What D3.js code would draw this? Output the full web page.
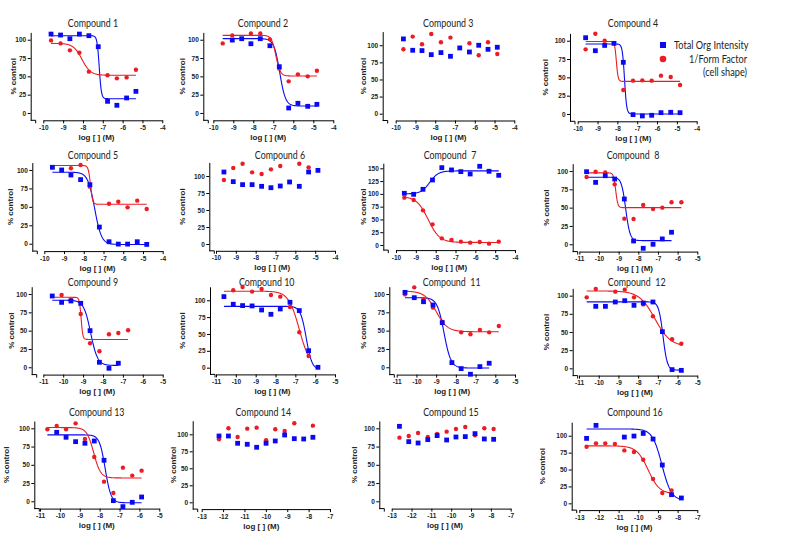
<!DOCTYPE html>
<html><head><meta charset="utf-8">
<script src="https://cdn.jsdelivr.net/npm/d3@7"></script>
<style>
body{margin:0;background:#fff}
svg{display:block}
.tick text{font-family:"Liberation Sans",Arial,sans-serif;font-weight:bold;font-size:6.5px;fill:#222}
.title{font-family:Lato,"Open Sans",sans-serif;font-size:10.8px;fill:#222;white-space:pre}
.axlab{font-family:"Liberation Sans",Arial,sans-serif;font-weight:bold;font-size:8px;fill:#222}
.leg{font-family:Lato,"Open Sans",sans-serif;font-size:10.8px;fill:#222}
</style>
</head><body>
<svg id="c" width="790" height="553"></svg>
<script>
// ---------- data ----------
const titles = ["Compound 1","Compound 2","Compound 3","Compound 4",
  "Compound 5","Compound 6","Compound  7","Compound  8",
  "Compound 9","Compound 10","Compound  11","Compound  12",
  "Compound 13","Compound 14","Compound 15","Compound 16"];
const seriesNames = ["Total Org Intensity","1/Form Factor","(cell shape)"];
const xDomains = [[-10,-4],[-10,-4],[-10,-4],[-10,-4],[-10,-4],[-10,-4],[-10,-4],[-11,-5],
  [-11,-5],[-11,-5],[-11,-5],[-11,-5],[-11,-5],[-13,-7],[-13,-7],[-13,-7]];
const yDomains = [[-10,110],[-10,110],[-10,120],[-10,110],[-10,110],[-10,120],[-10,160],[-10,110],
  [-10,110],[-10,120],[-10,110],[-10,110],[-10,110],[-10,120],[-10,110],[-10,120]];
const yTicks100 = [0,25,50,75,100];
const yTicks150 = [0,25,50,75,100,125,150];

// Total Org Intensity (blue squares): log[M] and % control
const orgX = [
 [-9.61,-9.13,-8.66,-8.18,-7.70,-7.23,-6.76,-6.29,-5.80,-5.33],
 [-9.05,-8.58,-8.12,-7.65,-7.17,-6.70,-6.23,-5.77,-5.28,-4.82],
 [-9.61,-9.14,-8.67,-8.20,-7.71,-7.23,-6.76,-6.27,-5.80,-5.33,-4.86],
 [-9.60,-9.11,-8.64,-8.17,-7.70,-7.21,-6.74,-6.27,-5.80,-5.31,-4.84],
 [-9.59,-9.12,-8.65,-8.16,-7.69,-7.21,-6.72,-6.25,-5.78,-5.29,-4.81],
 [-9.60,-9.13,-8.66,-8.18,-7.70,-7.23,-6.76,-6.29,-5.80,-5.33,-4.86],
 [-9.58,-9.11,-8.64,-8.16,-7.69,-7.20,-6.73,-6.26,-5.78,-5.31,-4.82],
 [-10.63,-10.17,-9.68,-9.20,-8.71,-8.24,-7.75,-7.25,-6.78,-6.31],
 [-10.55,-10.08,-9.61,-9.12,-8.65,-8.18,-7.70,-7.23],
 [-10.60,-10.13,-9.66,-9.18,-8.70,-8.23,-7.76,-7.27,-6.80,-6.33,-5.86],
 [-10.58,-10.11,-9.64,-9.16,-8.69,-8.20,-7.73,-7.26,-6.78,-6.31],
 [-10.15,-9.66,-9.16,-8.68,-8.21,-7.74,-7.25,-6.77,-6.28,-5.81],
 [-10.16,-9.69,-9.21,-8.74,-8.27,-7.78,-7.31,-6.83,-6.36,-5.89],
 [-12.19,-11.75,-11.32,-10.87,-10.43,-9.99,-9.56,-9.12,-8.67,-8.23,-7.80],
 [-12.61,-12.14,-11.67,-11.18,-10.71,-10.23,-9.76,-9.29,-8.80,-8.33,-7.86],
 [-12.63,-12.15,-10.71,-10.22,-9.75,-9.25,-8.78,-8.31,-7.81]];
const orgY = [
 [107.7,106.4,101.4,107.7,105.5,90.5,15.9,10.5,20.5,29.5],
 [99.5,101.4,94.5,101.4,91.8,63.2,6.8,13.2,9.1,11.8],
 [109.3,92.7,92.2,86.3,89.3,83.9,96.1,90.2,100,94.1,97.1],
 [104.1,86.4,93.6,96.4,70.5,-0.9,-2.7,-1.8,1.8,2.3,1.8],
 [103.6,100,93.2,86.9,80.1,22.6,2.7,-0.5,-0.5,2.7,-0.9],
 [105.9,91.7,87.3,87.3,84.8,82.8,85.3,91.2,84.8,105.9,108.3],
 [101.1,99.1,108.9,127.2,151.3,146.8,143.5,138.9,153.9,144.2,136.3],
 [99.1,84.5,93.6,89.1,61.8,4.5,-5.5,0,7.3,16.4],
 [97.3,88.6,90.5,87.3,50,6.8,-1.4,5.5],
 [105.4,94.1,92.1,91.6,85.6,79.2,87.1,97,84.7,25.2,0.5],
 [102.3,95,89.5,85,60.9,6.4,-1.8,-9.5,0.9,5.5],
 [85.3,85.3,91.3,93.1,86.7,89.9,91.3,50.5,-1.8,-2.8],
 [94.5,87.7,81.7,79.5,82.6,56.2,0.9,-7.3,-1.4,5.9],
 [97.5,97.5,86.8,85.3,80.9,86.8,90.2,99,93.6,93.1,95.6],
 [102.7,81.7,79.9,84.5,90,84,88.1,88.6,92.7,85.4,84.9],
 [96.1,115.3,98,99.5,103.4,95.1,56.7,12.8,7.9]];

// 1/Form Factor (red circles)
const ffX = [
 [-9.61,-9.13,-8.66,-8.18,-7.70,-6.76,-6.29,-5.80,-5.33],
 [-9.53,-9.05,-8.12,-7.65,-7.17,-6.70,-6.23,-5.77,-5.28,-4.82],
 [-9.61,-9.14,-8.67,-8.20,-7.71,-7.23,-6.27,-5.80,-5.33,-4.86],
 [-9.60,-9.11,-8.64,-7.70,-7.21,-6.74,-6.27,-5.80,-5.31,-4.84],
 [-8.65,-8.16,-7.69,-6.72,-6.25,-5.78,-5.29,-4.81],
 [-9.60,-9.13,-8.66,-8.18,-7.70,-7.23,-6.76,-5.80,-5.33],
 [-9.58,-9.11,-8.64,-8.16,-7.69,-7.20,-6.73,-6.26,-5.78,-5.31,-4.82],
 [-10.63,-10.17,-9.68,-9.20,-8.71,-8.24,-7.75,-7.25,-6.78,-6.31,-5.81],
 [-10.08,-9.61,-9.12,-8.65,-8.18,-7.70,-7.23,-6.74],
 [-10.13,-9.66,-9.18,-8.70,-8.23,-7.76,-7.27,-6.80,-6.33],
 [-10.58,-10.11,-9.64,-9.16,-8.69,-7.73,-7.26,-6.78,-6.31,-5.82],
 [-10.61,-10.15,-9.16,-8.68,-8.21,-7.74,-7.25,-6.28,-5.81],
 [-10.63,-10.16,-9.69,-9.21,-8.74,-8.27,-7.78,-7.31,-6.83,-6.36,-5.89],
 [-12.19,-11.75,-11.32,-10.87,-10.43,-9.99,-9.56,-9.12,-8.67,-7.80],
 [-12.61,-12.14,-11.67,-11.18,-10.71,-10.23,-9.76,-9.29,-8.80,-8.33,-7.86],
 [-12.63,-12.15,-11.68,-11.19,-10.71,-10.22,-9.75,-9.25,-8.78,-8.31]];
const ffY = [
 [99.1,95,85.5,82.3,56.4,51.4,47.3,48.6,59.1],
 [95,105.9,108.6,108.6,100.5,60.5,43.2,52.7,50,57.7],
 [94.1,112.7,101.5,116.6,104.4,111.2,102.9,85.4,104.4,87.3],
 [88.2,109.5,100,32.7,45.5,45.9,45.5,52.3,50.5,39.5],
 [102.3,106.8,77.4,54.3,57,49.3,58.4,47.1],
 [94.1,111.8,118.1,105.4,102.9,109.8,114.7,118.1,112.7],
 [92.6,88.1,67.8,40.4,13,9.8,6.5,4.6,5.9,2.6,6.5],
 [91.8,99.1,98.2,81.8,35,34.5,53.6,48.2,50,57.3,57.3],
 [98.6,92.7,72.7,32.7,21.8,45,46.8,50.5],
 [114.9,119.8,112.9,116.8,107.9,105.4,90.1,52.5,17.3],
 [99.5,109.1,93.2,81.4,62.3,47.7,45,50.9,47.7,56.4],
 [97.7,109.2,105.5,108.3,97.7,88,71.6,40,33.9],
 [98.6,103.2,98.6,106.8,85.4,60.7,26.9,11.4,46.1,35.2,42],
 [92.6,108.8,96.1,108.3,109.8,91.2,107.4,104.9,116.2,112.7],
 [87.2,89.5,93.6,88.1,92.2,95.4,99.1,101.8,90.4,100,99.1],
 [83.7,88.7,88.7,87.7,78.3,75.9,64.5,36,15.3,19.2]];

// fitted 4-parameter curves: [left plateau, right plateau, log IC50, slope] (null = no fit)
const orgFit = [[105.5,19.5,-7.18,8],[101.5,9.5,-6.68,3],null,[95.5,0,-7.64,8],
  [97,-1,-7.45,2.5],null,[100,145,-8.3,2],[91.5,5,-8.64,4],
  [91.5,2.5,-8.62,2.5],[91,-3,-6.45,3],[95,-1,-8.6,2.5],[91.5,-2.5,-6.74,4],
  [91,-2,-7.72,3],null,null,[110,4,-8.8,1.8]];
const ffFit = [[95,51.5,-8.05,2],[106,50.5,-6.87,4],null,[99,44.5,-8.05,10],
  [106,53.5,-7.66,8],null,[95,5,-8.38,1.5],[97.5,50,-9.15,8],
  [95.5,38,-9.1,10],[113.5,0,-6.8,1.6],[104,48.5,-9.0,1.5],[106.5,30,-7.15,1.1],
  [101,32,-8.3,2.5],null,null,[85,14,-9.5,1.5]];

// ---------- layout (pixels) ----------
const axX  = [30.7,203.3,382.7,570, 32.3,209.3,383.3,572.7, 31.7,210,389.3,572.7, 34.3,192.7,379.3,571.7];
const x0px = [43.3,213.3,395.7,577.7, 44.3,216,396,579.3, 43.3,216,396.7,579, 40,201.7,391.7,579.3];
const x1px = [162.3,333.3,514.3,696.7, 162.7,335,515,697.3, 162.7,335,515,697.3, 159.3,330,510.7,697.3];
const topPx = [32.4,32.4,31.6,33.4, 162.6,162.4,163.2,163.7, 286.7,286.8,286.7,288.4, 421,420.7,421,422.2];
const botPx = [120.3,120.3,120.5,121.3, 251.1,250.8,250.1,251.6, 374.6,374.4,374.6,375.6, 508.6,509.1,508.6,510.1];
const labOff = [18,21.7,20,25, 22.3,27.6,20.6,26.7, 21,28.3,26.6,26.7, 28.3,19.4,25.3,30];
const titleCx = [93,263,448.3,633, 93,280,450,633, 93,266.7,451.7,636.7, 96.7,263.3,451,635];
const titleCy = [23,23,23,23, 155,155,155,155, 282.3,282.3,282.3,282.3, 412.3,412.3,412.3,412.3];

const BLUE = "#0a0af2", RED = "#ec1c24";
const svg = d3.select("#c");

function fitFn(p){ return x => p[1] + (p[0]-p[1])/(1+Math.pow(10,(x-p[2])*p[3])); }
function squeeze(sel, k){ sel.each(function(){ const w=this.getComputedTextLength();
  d3.select(this).attr("textLength",(w*k).toFixed(1)).attr("lengthAdjust","spacingAndGlyphs"); }); }

for (let i=0;i<16;i++){
  const x = d3.scaleLinear().domain(xDomains[i]).range([x0px[i], x1px[i]]);
  const y = d3.scaleLinear().domain(yDomains[i]).range([botPx[i], topPx[i]]);
  const g = svg.append("g");

  // title
  g.append("text").attr("class","title").attr("x",titleCx[i]).attr("y",titleCy[i]+4)
    .attr("text-anchor","middle").attr("xml:space","preserve").text(titles[i]).call(squeeze,0.82);

  // y axis
  const yt = yDomains[i][1] > 150 ? yTicks150 : yTicks100;
  const ya = g.append("g").attr("transform",`translate(${axX[i]},0)`)
    .call(d3.axisLeft(y).tickValues(yt).tickSize(3).tickSizeOuter(0).tickPadding(1.5).tickFormat(d=>String(d)));
  // x axis
  const xt = d3.range(xDomains[i][0], xDomains[i][1]+0.5, 1);
  const xa = g.append("g").attr("transform",`translate(0,${botPx[i]})`)
    .call(d3.axisBottom(x).tickValues(xt).tickSize(3).tickSizeOuter(0).tickPadding(2).tickFormat(d=>String(d)));
  // short stub of the x axis at the origin corner
  g.append("line").attr("x1",axX[i]).attr("x2",axX[i]+5).attr("y1",botPx[i]).attr("y2",botPx[i]);
  g.append("line").attr("x1",axX[i]+5).attr("x2",axX[i]+5).attr("y1",botPx[i]).attr("y2",botPx[i]+3);
  g.selectAll("line").attr("stroke","#000");
  [ya,xa].forEach(a=>{a.select(".domain").attr("stroke","#000").attr("stroke-width",1);
    a.selectAll(".tick line").attr("stroke","#000"); a.attr("font-family",null).attr("font-size",null);});

  // axis labels
  g.append("text").attr("class","axlab").attr("text-anchor","middle")
    .attr("x",(axX[i]+x1px[i])/2).attr("y",botPx[i]+19.5).text("log [ ] (M)");
  const cy = (topPx[i]+botPx[i])/2;
  g.append("text").attr("class","axlab").attr("text-anchor","middle")
    .attr("transform",`translate(${axX[i]-labOff[i]+3},${cy}) rotate(-90)`).text("% control");

  // curves
  const allX = orgX[i].concat(ffX[i]);
  const xs0 = d3.min(allX);
  const line = d3.line().x(d=>x(d[0])).y(d=>y(d[1]));
  [[orgFit[i], orgX[i], BLUE],[ffFit[i], ffX[i], RED]].forEach(([p,xsS,col])=>{
    if(!p) return;
    const f = fitFn(p), xe = d3.max(xsS);
    const pts = d3.range(0,201).map(k=>{const xv = xs0+(xe-xs0)*k/200; return [xv,f(xv)];});
    g.append("path").attr("d",line(pts)).attr("fill","none").attr("stroke",col).attr("stroke-width",1.1);
  });

  // points
  g.selectAll("circle.ff").data(d3.zip(ffX[i],ffY[i])).join("circle").attr("class","ff")
    .attr("cx",d=>x(d[0])).attr("cy",d=>y(d[1])).attr("r",2.2).attr("fill",RED);
  g.selectAll("rect.org").data(d3.zip(orgX[i],orgY[i])).join("rect").attr("class","org")
    .attr("x",d=>x(d[0])-2.4).attr("y",d=>y(d[1])-2.4).attr("width",4.8).attr("height",4.8).attr("fill",BLUE);
}

// legend
const lg = svg.append("g");
lg.append("rect").attr("x",660).attr("y",42).attr("width",6).attr("height",6).attr("fill",BLUE);
lg.append("circle").attr("cx",663).attr("cy",59).attr("r",3.3).attr("fill",RED);
lg.append("text").attr("class","leg").attr("x",674).attr("y",48.8).text(seriesNames[0]).call(squeeze,0.85);
lg.append("text").attr("class","leg").attr("x",747).attr("y",62.5).attr("text-anchor","end").text(seriesNames[1]).call(squeeze,0.85);
lg.append("text").attr("class","leg").attr("x",747).attr("y",75.5).attr("text-anchor","end").text(seriesNames[2]).call(squeeze,0.85);
</script>
</body></html>
